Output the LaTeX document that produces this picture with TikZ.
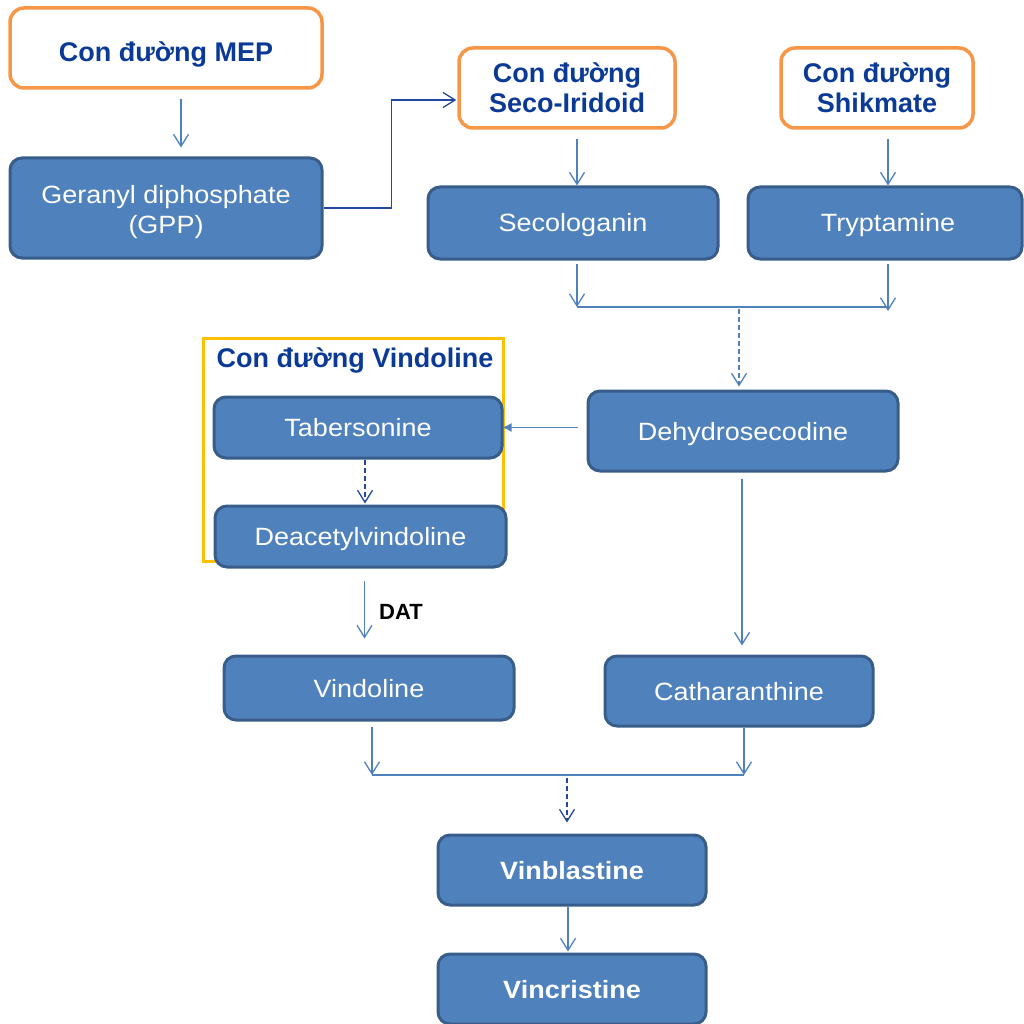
\documentclass[tikz,border=0pt]{standalone}
\usepackage{fontspec}
\setmainfont{Liberation Sans}[FakeStretch=1.08]
\newfontfamily\titlefont{Liberation Sans}
\usetikzlibrary{arrows.meta}

\definecolor{boxfill}{HTML}{4F81BD}
\definecolor{boxline}{HTML}{385D8A}
\definecolor{pathorange}{HTML}{F79646}
\definecolor{groupyellow}{HTML}{FFC000}
\definecolor{titleblue}{HTML}{0B3A96}
\definecolor{linkblue}{HTML}{4F81BD}
\definecolor{linkdark}{HTML}{23479E}

% two centred lines, lowered by #1 without changing the reported size
\newcommand{\pairlines}[3]{\raisebox{-#1}[\height][\depth]{\begin{tabular}{@{}c@{}}#2\\#3\end{tabular}}}

\tikzset{
  proc/.style={draw=boxline, fill=boxfill, line width=3pt, rounded corners=12pt,
    text=white, font=\fontsize{25}{30}\selectfont, inner sep=0pt,
    text height=23pt, text depth=5pt},
  procbold/.style={proc, font=\fontsize{25}{30}\selectfont\bfseries},
  proctwo/.style={proc, text height={}, text depth={}},
  pathbox/.style={draw=pathorange, fill=white, line width=3.5pt, rounded corners=14pt,
    text=titleblue, font=\titlefont\fontsize{27}{30}\selectfont\bfseries, inner sep=0pt},
  link/.style={draw=linkblue, line width=1.3pt},
  linkd/.style={draw=linkdark, line width=1.3pt},
  dashline/.style={dash pattern=on 5pt off 3pt},
  arr/.style={link, -{Straight Barb[length=12pt,width=15pt]}},
  arrd/.style={linkd, -{Straight Barb[length=12pt,width=15pt]}},
  arrsolid/.style={link, -{Latex[length=9pt,width=9pt]}},
}

\begin{document}
\begin{tikzpicture}[x=1pt,y=-1pt]
\useasboundingbox (0,0) rectangle (1024,1024);
\clip (0,0) rectangle (1024,1024);

% precursor pathways
\node[pathbox, minimum width=312pt, minimum height=80pt, text height=33pt, text depth=5pt] (mep) at (166,48) {Con đường MEP};
\node[pathbox, minimum width=216pt, minimum height=80pt] (seco) at (567,88) {\pairlines{4pt}{Con đường}{Seco-Iridoid}};
\node[pathbox, minimum width=192pt, minimum height=80pt] (shik) at (877,88) {\pairlines{4pt}{Con đường}{Shikmate}};

% Vindoline group frame
\node[draw=groupyellow, line width=3pt, minimum width=300pt, minimum height=223pt, inner sep=0pt] (vgroup) at (353,449.5) {};
\node[text=titleblue, font=\titlefont\fontsize{27}{30}\selectfont\bfseries, inner sep=0pt] (vtitle) at (355,360) {Con đường Vindoline};

% intermediates and products
\node[proctwo, minimum width=312pt, minimum height=100pt] (gpp) at (166,208) {\pairlines{5pt}{Geranyl diphosphate}{(GPP)}};
\node[proc, minimum width=290pt, minimum height=72pt] (sec) at (573,223) {Secologanin};
\node[proc, minimum width=274pt, minimum height=72pt] (tryp) at (885,223) {\hspace*{6pt}Tryptamine};
\node[proc, minimum width=310pt, minimum height=80pt] (dehy) at (743,431) {Dehydrosecodine};
\node[proc, minimum width=288pt, minimum height=61pt] (tab) at (358,427.5) {Tabersonine};
\node[proc, minimum width=291pt, minimum height=61pt] (deac) at (360.5,536.5) {Deacetylvindoline};
\node[proc, minimum width=290pt, minimum height=64pt] (vind) at (369,688) {Vindoline};
\node[proc, minimum width=268pt, minimum height=70pt] (cath) at (739,691) {Catharanthine};
\node[procbold, minimum width=268pt, minimum height=70pt] (vinb) at (572,870) {Vinblastine};
\node[procbold, minimum width=268pt, minimum height=70pt] (vinc) at (572,989) {Vincristine};

% junction points
\coordinate (jl) at (577,307);
\coordinate (jr) at (888,307);
\coordinate (jm) at (739,307);
\coordinate (kl) at (372,775);
\coordinate (kr) at (744,775);
\coordinate (km) at (567,775);

% connectors
\draw[arr, shorten <=9pt, shorten >=9pt] ([xshift=15pt]mep.south) -- ([xshift=15pt]mep.south |- gpp.north);
\draw[arrd, shorten >=1pt] (gpp.east) -- ++(68,0) |- ([yshift=-12pt]seco.west);
\draw[arr, shorten <=9pt] ([xshift=10pt]seco.south) -- ([xshift=10pt]seco.south |- sec.north);
\draw[arr, shorten <=9pt] ([xshift=11pt]shik.south) -- ([xshift=11pt]shik.south |- tryp.north);

\draw[arr, shorten <=3pt] (jl |- sec.south) -- (jl);
\draw[arr, shorten <=3pt, shorten >=-4pt] (jr |- tryp.south) -- (jr);
\draw[link] (jl) -- (jr);
\draw[arr, dashline, shorten <=2pt, shorten >=3pt] (jm) -- (jm |- dehy.north);

\draw[arrsolid, shorten <=9pt, shorten >=-1pt] (dehy.west |- tab.east) -- (tab.east);
\draw[arrd, dashline, shorten >=1pt] ([xshift=7pt]tab.south) -- ([xshift=7pt]tab.south |- deac.north);
\draw[arr, shorten <=12pt, shorten >=16pt] ([xshift=4pt]deac.south) -- ([xshift=4pt]deac.south |- vind.north)
  node[midway, right=14pt, text=black, font=\titlefont\fontsize{22}{26}\selectfont\bfseries, inner sep=0pt] (dat) {DAT};
\draw[arr, shorten <=6pt, shorten >=9pt] ([xshift=-1pt]dehy.south) -- ([xshift=-1pt]dehy.south |- cath.north);

\draw[arr, shorten <=5pt] (kl |- vind.south) -- (kl);
\draw[arr, shorten <=0pt] (kr |- cath.south) -- (kr);
\draw[link] (kl) -- (kr);
\draw[arrd, dashline, shorten <=3pt, shorten >=11pt] (km) -- (km |- vinb.north);
\draw[arr, shorten >=1pt] ([xshift=-4pt]vinb.south) -- ([xshift=-4pt]vinb.south |- vinc.north);
\end{tikzpicture}
\end{document}
